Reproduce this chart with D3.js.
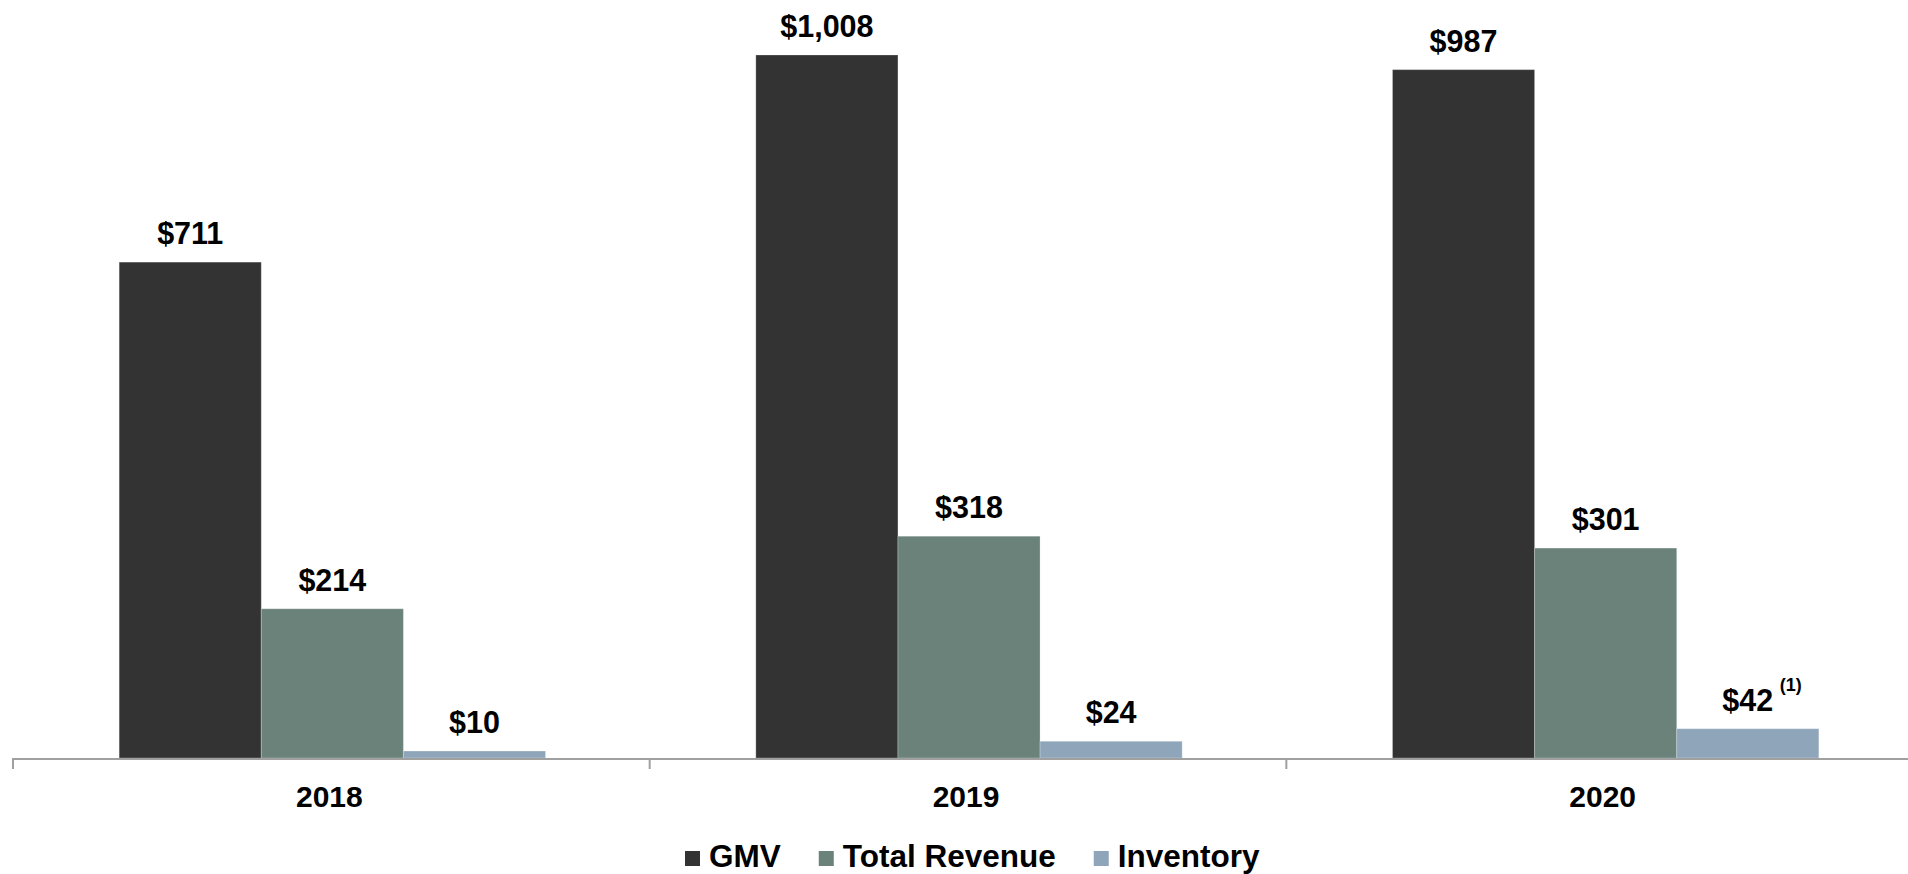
<!DOCTYPE html>
<html>
<head>
<meta charset="utf-8">
<script src="https://cdn.jsdelivr.net/npm/d3@7"></script>
<style>
  html, body { margin: 0; padding: 0; background: #ffffff; }
  svg { display: block; }
  text { font-family: "Liberation Sans", Arial, Helvetica, sans-serif; font-weight: bold; fill: #000; }
</style>
</head>
<body>
<svg id="chart" width="1908" height="874"></svg>
<script>
// Yearly figures ($ millions)
const years = ["2018", "2019", "2020"];
const seriesNames = ["GMV", "Total Revenue", "Inventory"];
const gmv = [711, 1008, 987];
const totalRevenue = [214, 318, 301];
const inventory = [10, 24, 42];
const valueLabels = [
  ["$711", "$214", "$10"],
  ["$1,008", "$318", "$24"],
  ["$987", "$301", "$42"]
];
const footnotes = [["", "", ""], ["", "", ""], ["", "", "(1)"]];
const colors = ["#333333", "#6a8279", "#8ea5ba"];

const seriesValues = [gmv, totalRevenue, inventory];
const rows = years.map((year, i) => ({
  year,
  items: seriesNames.map((name, s) => ({
    name, value: seriesValues[s][i], label: valueLabels[i][s], note: footnotes[i][s]
  }))
}));

const svg = d3.select("#chart");
const baseY = 758;

const x0 = d3.scaleBand().domain(years).range([13, 1923]).padding(0);
const x1 = d3.scaleBand().domain(seriesNames).range([0, x0.bandwidth()])
  .paddingInner(0).paddingOuter(0.74);
const y = d3.scaleLinear().domain([0, 1008]).range([baseY, 55]);
const color = d3.scaleOrdinal().domain(seriesNames).range(colors);

// Bars and value labels
const groups = svg.append("g").selectAll("g")
  .data(rows).join("g")
  .attr("transform", d => `translate(${x0(d.year) + 1},0)`);

groups.selectAll("rect")
  .data(d => d.items).join("rect")
  .attr("x", d => x1(d.name))
  .attr("width", x1.bandwidth())
  .attr("y", d => y(d.value))
  .attr("height", d => y(0) - y(d.value))
  .attr("fill", d => color(d.name))
  .attr("stroke", "rgba(255,255,255,0.25)")
  .attr("stroke-width", 1);

groups.selectAll("text.val")
  .data(d => d.items).join("text")
  .attr("class", "val")
  .attr("x", d => x1(d.name) + x1.bandwidth() / 2)
  .attr("y", d => y(d.value) - 18)
  .attr("text-anchor", "middle")
  .style("font-size", "30.5px")
  .text(d => d.label);

// Footnote marker placed just above the right edge of its label
groups.selectAll("text.note")
  .data(d => d.items.filter(it => it.note)).join("text")
  .attr("class", "note")
  .attr("x", d => x1(d.name) + x1.bandwidth() / 2 + 32)
  .attr("y", d => y(d.value) - 38)
  .style("font-size", "18px")
  .text(d => d.note);

// Category axis along the baseline
svg.append("line")
  .attr("x1", x0.range()[0]).attr("x2", x0.range()[1])
  .attr("y1", baseY + 1).attr("y2", baseY + 1)
  .attr("stroke", "#a0a0a0").attr("stroke-width", 2);

const boundaries = years.map(yr => x0(yr)).concat([x0.range()[1]]);
svg.append("g").selectAll("line")
  .data(boundaries).join("line")
  .attr("x1", d => d).attr("x2", d => d)
  .attr("y1", baseY).attr("y2", baseY + 11)
  .attr("stroke", "#a0a0a0").attr("stroke-width", 2);

svg.append("g").selectAll("text")
  .data(years).join("text")
  .attr("x", d => x0(d) + x0.bandwidth() / 2 - 2)
  .attr("y", 807)
  .attr("text-anchor", "middle")
  .style("font-size", "30px")
  .text(d => d);

// Legend
const legend = svg.append("g").attr("transform", "translate(685,0)");
let lx = 0;
seriesNames.forEach(name => {
  const item = legend.append("g").attr("transform", `translate(${lx},0)`);
  item.append("rect")
    .attr("x", 0).attr("y", 851).attr("width", 15).attr("height", 15)
    .attr("fill", color(name));
  const t = item.append("text")
    .attr("x", 24).attr("y", 867)
    .style("font-size", "31.5px")
    .text(name);
  lx += 24 + t.node().getComputedTextLength() + 38;
});
</script>
</body>
</html>
